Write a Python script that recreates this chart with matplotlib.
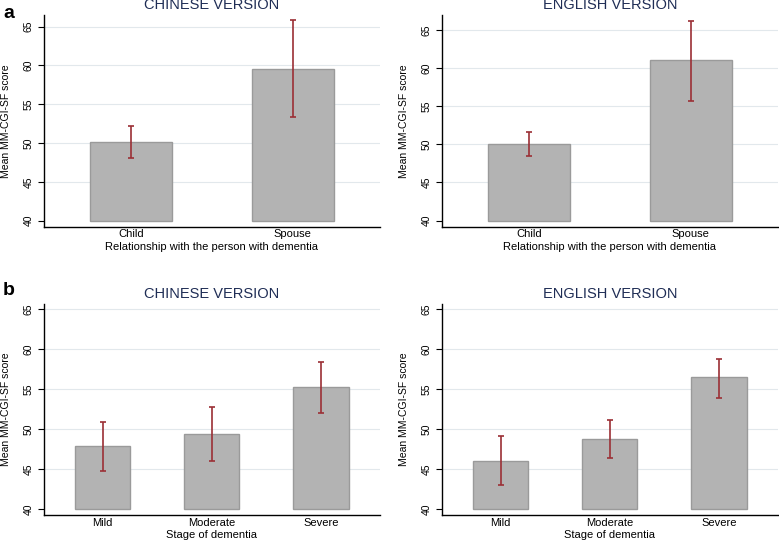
import numpy as np
import matplotlib.pyplot as plt

plt.rcParams['font.family'] = ['Liberation Sans', 'DejaVu Sans']

# panel a: relationship with the person with dementia
rel_cats = ['Child', 'Spouse']
rel_cn_mean = [50.2, 59.55]
rel_cn_lo = [48.1, 53.3]
rel_cn_hi = [52.2, 65.8]
rel_en_mean = [50.05, 61.0]
rel_en_lo = [48.5, 55.7]
rel_en_hi = [51.6, 66.2]

# panel b: stage of dementia
stage_cats = ['Mild', 'Moderate', 'Severe']
stage_cn_mean = [47.9, 49.4, 55.25]
stage_cn_lo = [44.8, 46.0, 52.0]
stage_cn_hi = [50.95, 52.75, 58.45]
stage_en_mean = [46.1, 48.8, 56.5]
stage_en_lo = [43.0, 46.45, 53.95]
stage_en_hi = [49.2, 51.15, 58.8]

bar_col = '#b3b3b3'
edge_col = '#9a9a9a'
err_col = '#9b2f35'
title_col = '#1f2d55'


def draw(ax, cats, mean, lo, hi, title, xlabel, ylim):
    x = np.arange(len(cats))
    mean = np.array(mean)
    ax.bar(x, mean - 40, bottom=40, width=0.505, color=bar_col,
           edgecolor=edge_col, linewidth=1.0, zorder=2)
    yerr = [mean - np.array(lo), np.array(hi) - mean]
    ax.errorbar(x, mean, yerr=yerr, fmt='none', ecolor=err_col,
                elinewidth=1.2, capsize=2.5, capthick=1.2, zorder=3)
    ax.set_xlim(-0.54, len(cats) - 1 + 0.54)
    ax.set_ylim(*ylim)
    ax.set_yticks([40, 45, 50, 55, 60, 65])
    ax.set_yticklabels(['40', '45', '50', '55', '60', '65'], rotation=90,
                       va='center', fontsize=7.5)
    ax.set_xticks(x)
    ax.set_xticklabels(cats, fontsize=8)
    ax.tick_params(axis='x', length=0, pad=2)
    ax.tick_params(axis='y', length=4, width=0.8, pad=3)
    for s in ['top', 'right']:
        ax.spines[s].set_visible(False)
    ax.spines['left'].set_linewidth(1.0)
    ax.spines['bottom'].set_linewidth(1.0)
    for g in [45, 50, 55, 60, 65]:
        ax.axhline(g, color='#e2e8ec', linewidth=0.8, zorder=0)
    ax.set_title(title, color=title_col, fontsize=10.5, pad=4)
    ax.set_xlabel(xlabel, fontsize=8, labelpad=1.5)
    ax.set_ylabel('Mean MM-CGI-SF score', fontsize=7.5, labelpad=9)


fig = plt.figure(figsize=(7.79, 5.41), dpi=100)
ax1 = fig.add_axes([0.0561, 0.581, 0.4317, 0.3913])
ax2 = fig.add_axes([0.567, 0.581, 0.4317, 0.3913])
ax3 = fig.add_axes([0.0561, 0.048, 0.4317, 0.391])
ax4 = fig.add_axes([0.567, 0.048, 0.4317, 0.391])

draw(ax1, rel_cats, rel_cn_mean, rel_cn_lo, rel_cn_hi, 'CHINESE VERSION',
     'Relationship with the person with dementia', (39.23, 66.5))
draw(ax2, rel_cats, rel_en_mean, rel_en_lo, rel_en_hi, 'ENGLISH VERSION',
     'Relationship with the person with dementia', (39.2, 66.95))
draw(ax3, stage_cats, stage_cn_mean, stage_cn_lo, stage_cn_hi, 'CHINESE VERSION',
     'Stage of dementia', (39.3, 65.75))
draw(ax4, stage_cats, stage_en_mean, stage_en_lo, stage_en_hi, 'ENGLISH VERSION',
     'Stage of dementia', (39.3, 65.75))

fig.text(0.004, 0.99, 'a', fontsize=14, fontweight='bold', va='top')
fig.text(0.004, 0.478, 'b', fontsize=14, fontweight='bold', va='top')

fig.savefig('out.png', dpi=100)
